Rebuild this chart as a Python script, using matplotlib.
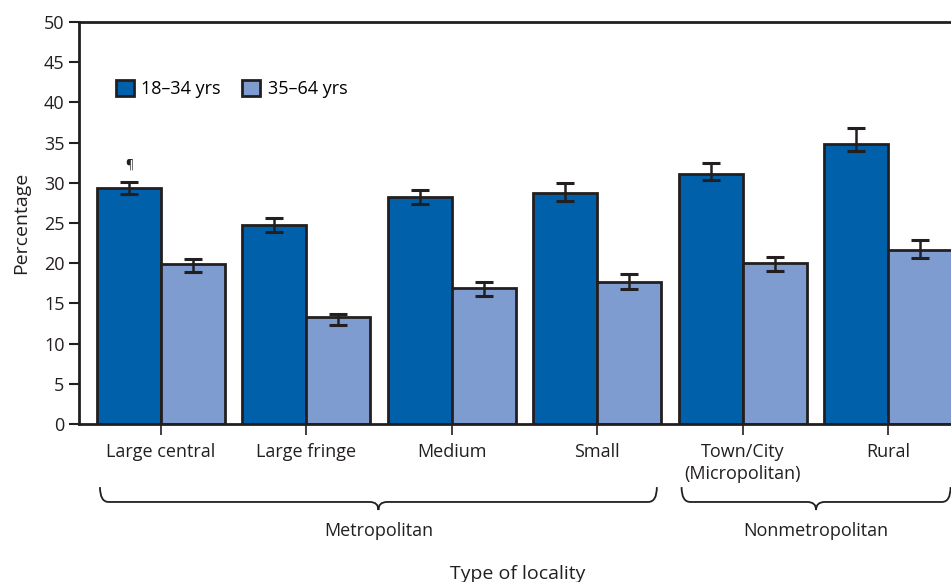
import matplotlib.pyplot as plt
import numpy as np
from matplotlib.path import Path
from matplotlib.patches import PathPatch

plt.rcParams['font.family'] = ['Open Sans', 'DejaVu Sans']

categories = ['Large central', 'Large fringe', 'Medium', 'Small', 'Town/City\n(Micropolitan)', 'Rural']
young = [29.4, 24.75, 28.2, 28.7, 31.1, 34.8]
young_lo = [28.6, 23.9, 27.4, 27.7, 30.3, 33.9]
young_hi = [30.1, 25.6, 29.1, 30.0, 32.5, 36.8]
older = [19.9, 13.3, 16.9, 17.7, 20.0, 21.6]
older_lo = [18.9, 12.3, 15.9, 16.75, 19.0, 20.7]
older_hi = [20.5, 13.7, 17.7, 18.7, 20.8, 22.85]
groups = [('Metropolitan', 0, 3), ('Nonmetropolitan', 4, 5)]

dark = '#0060a9'
light = '#7e9cd0'
edge = '#231f20'

fig = plt.figure(figsize=(9.51, 5.82), dpi=100)
ax = fig.add_axes([0.0831, 0.2715, 0.9169, 0.6907])

x = np.arange(len(categories))
w = 0.44
y_err = [np.array(young) - np.array(young_lo), np.array(young_hi) - np.array(young)]
o_err = [np.array(older) - np.array(older_lo), np.array(older_hi) - np.array(older)]

ax.bar(x - w / 2, young, w, color=dark, edgecolor=edge, linewidth=2, label='18\u201334 yrs', zorder=2)
ax.bar(x + w / 2, older, w, color=light, edgecolor=edge, linewidth=2, label='35\u201364 yrs', zorder=2)
ax.errorbar(x - w / 2, young, yerr=y_err, fmt='none', ecolor=edge, elinewidth=1.8,
            capsize=6.5, capthick=2.2, zorder=3)
ax.errorbar(x + w / 2, older, yerr=o_err, fmt='none', ecolor=edge, elinewidth=1.8,
            capsize=6.5, capthick=2.2, zorder=3)

# footnote mark
ax.text(x[0] - w / 2, young_hi[0] + 1.3, '\u00b6', ha='center', va='bottom', fontsize=9, color=edge)

ax.set_xlim(-0.564, 5.433)
ax.set_ylim(0, 50)
ax.set_yticks(np.arange(0, 51, 5))
ax.set_xticks(x)
ax.set_xticklabels(categories, fontsize=13, color='#231f20', linespacing=1.25)
ax.tick_params(axis='y', labelsize=13, length=7, width=1.5, colors=edge, labelcolor='#231f20')
ax.tick_params(axis='x', length=8, width=1.2, colors=edge, pad=6)
ax.spines['right'].set_visible(False)
for s in ['left', 'top', 'bottom']:
    ax.spines[s].set_linewidth(2)
    ax.spines[s].set_color(edge)

ax.set_ylabel('Percentage', fontsize=14, color='#231f20', labelpad=10)

leg = ax.legend(loc='upper left', bbox_to_anchor=(0.034, 0.874), ncol=2, frameon=False,
                fontsize=13, handlelength=1.0, handleheight=1.0, handletextpad=0.4,
                columnspacing=1.2, borderaxespad=0)

# group braces
trans = ax.get_xaxis_transform()
for name, i0, i1 in groups:
    x0 = i0 - 0.42
    x1 = i1 + 0.41 if i1 == 3 else 5.43
    xm = (x0 + x1) / 2
    yt, yh, yb = -0.157, -0.194, -0.214
    r = 0.06
    verts = [(x0, yt), (x0, yh), (x0 + r, yh),
             (xm - r, yh), (xm, yh), (xm, yb),
             (xm, yh), (xm + r, yh),
             (x1 - r, yh), (x1, yh), (x1, yt)]
    codes = [Path.MOVETO, Path.CURVE3, Path.CURVE3,
             Path.LINETO, Path.CURVE3, Path.CURVE3,
             Path.CURVE3, Path.CURVE3,
             Path.LINETO, Path.CURVE3, Path.CURVE3]
    ax.add_patch(PathPatch(Path(verts, codes), transform=trans, fill=False,
                           edgecolor=edge, linewidth=1.3, clip_on=False))
    ax.text(xm, -0.266, name, transform=trans, ha='center', va='center',
            fontsize=13, color='#231f20')

ax.text(0.503, -0.372, 'Type of locality', transform=ax.transAxes, ha='center', va='center',
        fontsize=14, color='#231f20')

fig.savefig('out.png', dpi=100)
